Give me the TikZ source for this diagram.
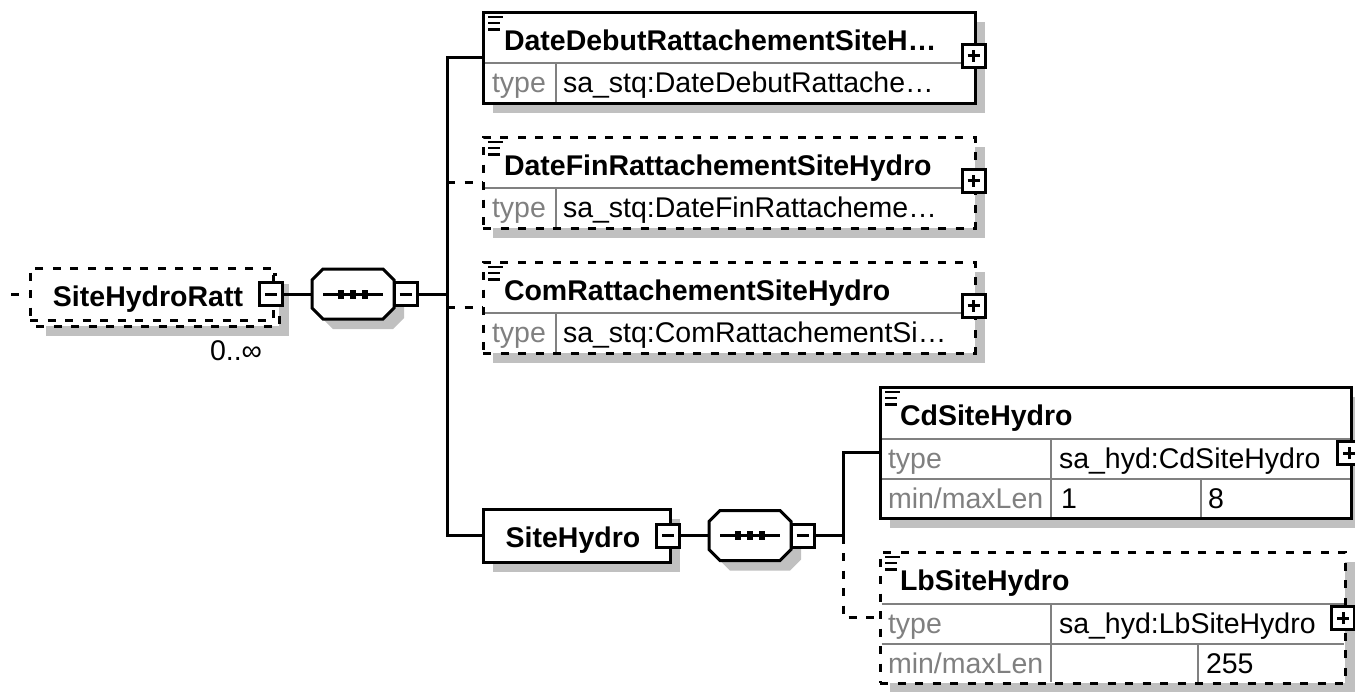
\documentclass[tikz,border=0pt]{standalone}
\usepackage{fontspec}
\setmainfont{Liberation Sans}
\usetikzlibrary{calc,shadows}
\definecolor{shadowgray}{RGB}{192,192,192}
\definecolor{rulegray}{RGB}{128,128,128}

\begin{document}
\begin{tikzpicture}[x=1pt, y=-1pt,
  every node/.style={font=\fontsize{28.5}{34}\selectfont, inner sep=0pt, outer sep=0pt},
  conn/.style={line width=3pt},
  optconn/.style={line width=3pt, dash pattern=on 8pt off 9.5pt},
  box/.style={draw, line width=3pt, fill=white, anchor=north west},
  optbox/.style={box, dash pattern=on 8pt off 9.5pt},
  boxshadow/.style={drop shadow={shadow xshift=10pt, shadow yshift=-10pt, draw=none, fill=shadowgray, opacity=1}},
  seq/.style={minimum width=82pt, minimum height=50pt},
  minusbtn/.style={draw, line width=3pt, fill=white, minimum size=23pt,
    path picture={\draw[line width=3pt] ([xshift=-6pt]path picture bounding box.center) -- ([xshift=6pt]path picture bounding box.center);}},
  plusbtn/.style={draw, line width=3pt, fill=white, minimum size=23pt,
    path picture={\draw[line width=3pt] ([xshift=-6pt]path picture bounding box.center) -- ([xshift=6pt]path picture bounding box.center)
      ([yshift=-6pt]path picture bounding box.center) -- ([yshift=6pt]path picture bounding box.center);}},
  rowline/.style={line width=2.5pt, rulegray},
  docline/.style={line width=2.3pt},
  title/.style={anchor=base west, font=\fontsize{28.5}{34}\selectfont\bfseries},
  key/.style={anchor=base west, text=rulegray},
  val/.style={anchor=base west}]

\useasboundingbox (0,0) rectangle (1355,691);

% SiteHydroRatt
\node[optbox, boxshadow, minimum width=243pt, minimum height=52pt] (rattback) at (36,274) {};
\node[optbox, minimum width=243pt, minimum height=52pt] (ratt) at (30,268) {};
\node[minusbtn] (rattbtn) at ($(ratt.east)+(-2,0)$) {};
\node[title, anchor=base] (rattname) at (148,306) {SiteHydroRatt};
\node (rattocc) at (236,351) {0..∞};

% sequences
\node[seq] (rattseq) at (353,294) {};
\node[seq] (siteseq) at (750,535.5) {};
\foreach \s in {rattseq,siteseq} {
  \draw[conn, fill=white, boxshadow] ($(\s.west)+(0,-14)$) -- ($(\s.north west)+(11,0)$)
    -- ($(\s.north east)+(-11,0)$) -- ($(\s.east)+(0,-14)$) -- ($(\s.east)+(0,14)$)
    -- ($(\s.south east)+(-11,0)$) -- ($(\s.south west)+(11,0)$) -- ($(\s.west)+(0,14)$) -- cycle;
  \draw[conn] ($(\s.center)+(-30,0)$) -- ($(\s.center)+(30,0)$);
  \foreach \d in {-12,0,12}
    \fill ($(\s.center)+(\d,0)+(-3,-4.5)$) rectangle ++(6,9);
}
\node[minusbtn, anchor=west] (rattseqbtn) at (rattseq.east) {};
\node[minusbtn, anchor=west] (siteseqbtn) at (siteseq.east) {};

% children of the sequence
\node[box, boxshadow, minimum width=492pt, minimum height=91pt] (debut) at (483,12) {};
\node[optbox, boxshadow, minimum width=492pt, minimum height=91pt] (fin) at (483,137) {};
\node[optbox, boxshadow, minimum width=492pt, minimum height=91pt] (com) at (483,262) {};

\foreach \b/\t/\v in {debut/DateDebutRattachementSiteH…/sa\_stq:DateDebutRattache…,
    fin/DateFinRattachementSiteHydro/sa\_stq:DateFinRattacheme…,
    com/ComRattachementSiteHydro/sa\_stq:ComRattachementSi…} {
  \draw[rowline] ($(\b.north west)+(1.5,51)$) -- ($(\b.north east)+(-1.5,51)$);
  \draw[rowline] ($(\b.north west)+(73,51)$) -- ($(\b.south west)+(73,-1.5)$);
  \draw[docline] ($(\b.north west)+(5,5)$) -- +(15,0)
    ($(\b.north west)+(5,11)$) -- +(12,0)
    ($(\b.north west)+(5,17.5)$) -- +(12,0);
  \node[title] (\b-name) at ($(\b.north west)+(21,38)$) {\t};
  \node[key] (\b-key) at ($(\b.north west)+(9,80)$) {type};
  \node[val] (\b-val) at ($(\b.north west)+(80,80)$) {\v};
  \node[plusbtn] (\b-btn) at ($(\b.east)+(-1.5,-2)$) {};
}

% SiteHydro
\node[box, boxshadow, minimum width=187pt, minimum height=53pt] (site) at (483,509) {};
\node[minusbtn] (sitebtn) at ($(site.east)+(-2,0)$) {};
\node[title, anchor=base] (sitename) at (573,547) {SiteHydro};

\node[box, boxshadow, minimum width=471pt, minimum height=131pt] (cd) at (880,387) {};
\node[optbox, boxshadow, minimum width=465pt, minimum height=131pt] (lb) at (880,552) {};

\foreach \b/\w in {cd/321, lb/318} {
  \draw[rowline] ($(\b.north west)+(1.5,52)$) -- ($(\b.north east)+(-1.5,52)$);
  \draw[rowline] ($(\b.north west)+(1.5,92)$) -- ($(\b.north east)+(-1.5,92)$);
  \draw[rowline] ($(\b.north west)+(171,52)$) -- ($(\b.south west)+(171,-1.5)$);
  \draw[rowline] ($(\b.north west)+(\w,92)$) -- ($(\b.south west)+(\w,-1.5)$);
  \draw[docline] ($(\b.north west)+(5,5)$) -- +(15,0)
    ($(\b.north west)+(5,11)$) -- +(12,0)
    ($(\b.north west)+(5,17.5)$) -- +(12,0);
  \node[key] (\b-key) at ($(\b.north west)+(8,81)$) {type};
  \node[key] (\b-len) at ($(\b.north west)+(8,121)$) {min/maxLen};
  \node[plusbtn] (\b-btn) at ($(\b.east)+(-2,0.5)$) {};
}

\node[title] (cdname) at (900,425) {CdSiteHydro};
\node[val] (cdtype) at (1059,468) {sa\_hyd:CdSiteHydro};
\node[val] (cdmin) at (1061,508) {1};
\node[val] (cdmax) at (1208,508) {8};

\node[title] (lbname) at (900,590) {LbSiteHydro};
\node[val] (lbtype) at (1059,633) {sa\_hyd:LbSiteHydro};
\node[val] (lbmax) at (1206,673) {255};

% connectors
\coordinate (in) at (11,294);
\coordinate (fork) at (447,294);
\coordinate (fork2) at (843,535.5);

\draw[optconn] (in) -- (ratt.west);
\draw[conn] (rattbtn.east) -- (rattseq.west);
\draw[conn] (rattseqbtn.east) -- (fork);
\draw[conn] (debut.west) -| (fork) |- (site.west);
\draw[optconn] (fork |- fin.west) -- (fin.west);
\draw[optconn] (fork |- com.west) -- (com.west);

\draw[conn] (sitebtn.east) -- (siteseq.west);
\draw[conn] (siteseqbtn.east) -- (fork2);
\draw[conn] (cd.west) -| (fork2);
\draw[optconn] (fork2) |- (lb.west);

\end{tikzpicture}
\end{document}
